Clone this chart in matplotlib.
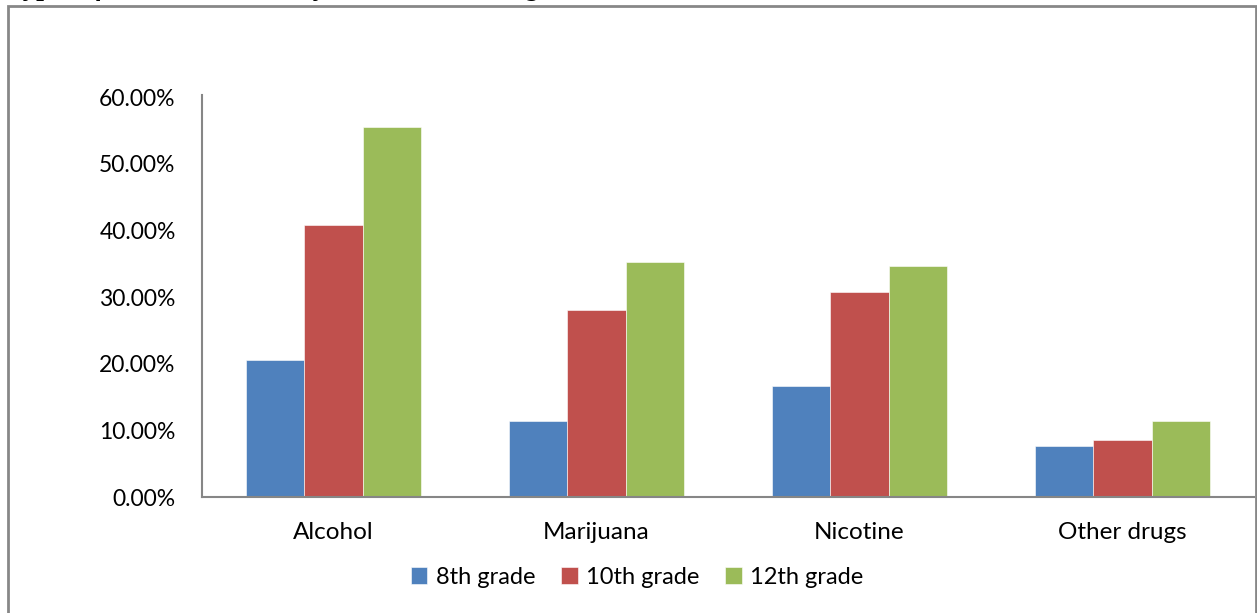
import matplotlib
matplotlib.use("Agg")
import matplotlib.pyplot as plt
import numpy as np
from matplotlib.patches import Rectangle
from matplotlib.ticker import FuncFormatter

categories = ["Alcohol", "Marijuana", "Nicotine", "Other drugs"]
series_names = ["8th grade", "10th grade", "12th grade"]
grade_8 = [0.2055, 0.1135, 0.1665, 0.0765]
grade_10 = [0.408, 0.2805, 0.3075, 0.0855]
grade_12 = [0.5545, 0.353, 0.3465, 0.1135]
y_ticks = [0.0, 0.1, 0.2, 0.3, 0.4, 0.5, 0.6]

colors = ["#4F81BD", "#C0504D", "#9BBB59"]
axis_gray = "#868686"
font = "Lato"

W, H = 1257, 613
fig = plt.figure(figsize=(W / 100, H / 100), dpi=100)
fig.patch.set_facecolor("white")

# outer chart frame (bottom edge runs off the page)
frame = Rectangle((8 / W, -0.05), (1256 - 8) / W, (H - 6) / H + 0.05,
                  transform=fig.transFigure, fill=False,
                  edgecolor="#878787", linewidth=2.0, clip_on=False)
fig.patches.append(frame)

# caption line above the frame, mostly cut off at the top of the page
fig.text(10 / W, 1.0 + 5.0 / H, "Types of substances used by students in each grade",
         family="Liberation Serif", fontweight="bold", style="italic",
         fontsize=20, va="baseline", ha="left", color="black")

left, right = 202 / W, 1254 / W
bottom, top = (H - 497) / H, (H - 97) / H
ax = fig.add_axes([left, bottom, right - left, top - bottom])

x = np.arange(len(categories))
bw = 1 / 4.5
for i, (vals, name) in enumerate(zip([grade_8, grade_10, grade_12], series_names)):
    ax.bar(x + (i - 1) * bw, vals, width=bw, color=colors[i], label=name,
           edgecolor="white", linewidth=0.4, zorder=2)

ax.set_xlim(-0.5, len(categories) - 0.5)
ax.set_ylim(0, 0.6)
ax.set_yticks(y_ticks)
ax.yaxis.set_major_formatter(FuncFormatter(lambda v, p: f"{v * 100:.2f}%"))
ax.set_xticks(x)
ax.set_xticklabels(categories)

for s in ["top", "right"]:
    ax.spines[s].set_visible(False)
for s in ["left", "bottom"]:
    ax.spines[s].set_color(axis_gray)
    ax.spines[s].set_linewidth(1.5)
ax.spines["left"].set_bounds(0, 0.603)

ax.tick_params(axis="both", length=0, labelcolor="black")
ax.tick_params(axis="y", pad=19, labelsize=16.5)
ax.tick_params(axis="x", pad=18, labelsize=17.5)
for lbl in ax.get_xticklabels() + ax.get_yticklabels():
    lbl.set_family(font)

leg = fig.legend(loc="center", bbox_to_anchor=(637 / W, (H - 577) / H), ncol=3,
                 frameon=False, prop={"family": font, "size": 17},
                 handlelength=0.7, handleheight=0.7, handletextpad=0.35,
                 columnspacing=1.1, borderaxespad=0)

fig.savefig("out.png", dpi=100, facecolor="white")
